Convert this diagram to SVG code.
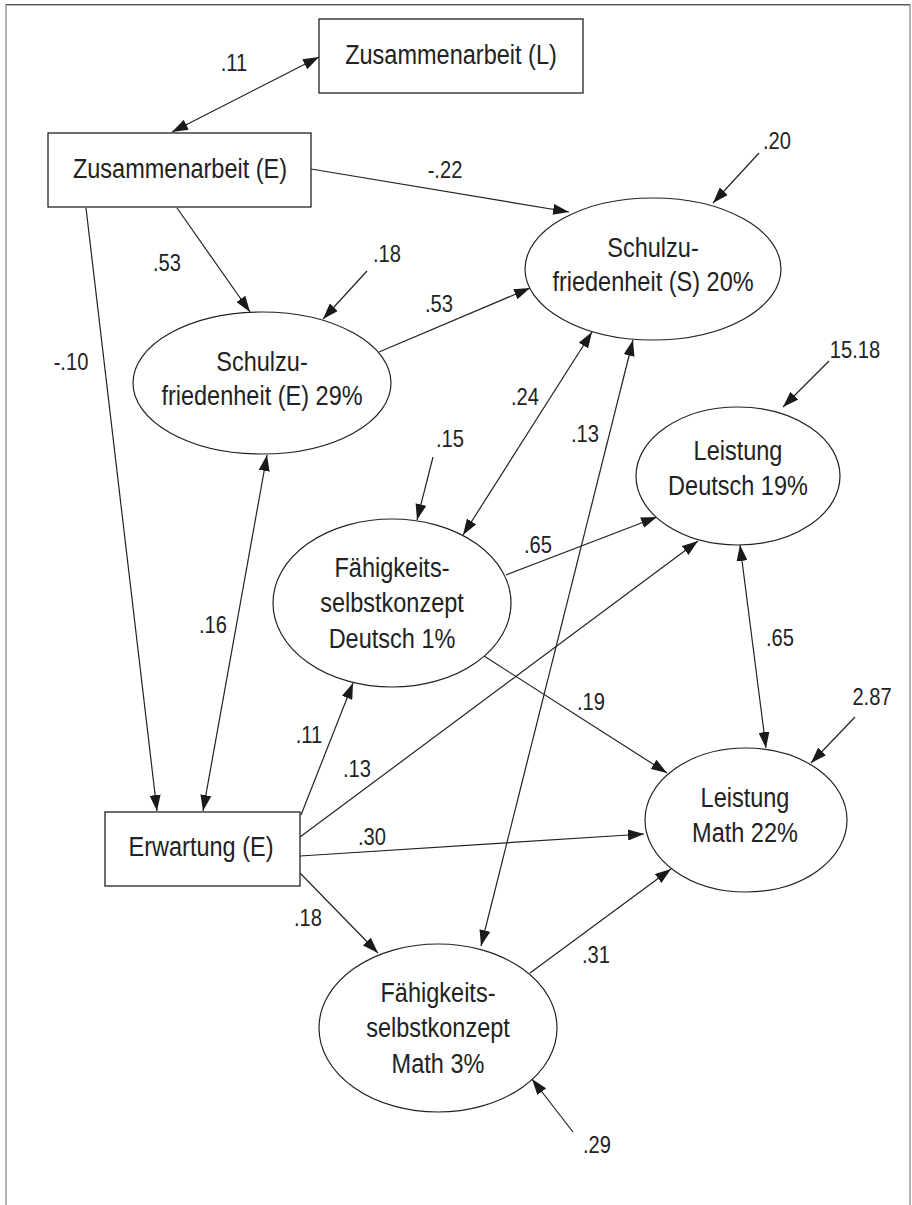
<svg xmlns="http://www.w3.org/2000/svg" width="912" height="1205" viewBox="0 0 912 1205">
<defs>
<marker id="ah" viewBox="0 0 16 11" refX="16" refY="5.5" markerWidth="16" markerHeight="11" markerUnits="userSpaceOnUse" orient="auto-start-reverse">
<path d="M0,0 L16,5.5 L0,11 z" fill="#1a1a1a"/>
</marker>
<style>
.frame{fill:none;stroke:#9a9a9a;stroke-width:1.5}
.box{fill:#fff;stroke:#222;stroke-width:1.3}
.ell{fill:#fff;stroke:#222;stroke-width:1.2}
.t{font-family:"Liberation Sans",Arial,sans-serif;font-size:28px;fill:#222;text-anchor:middle}
.lb{font-family:"Liberation Sans",Arial,sans-serif;font-size:24px;fill:#222;text-anchor:middle}
.c line{stroke:#222;stroke-width:1.2;fill:none}
.one{marker-end:url(#ah)}
.two{marker-start:url(#ah);marker-end:url(#ah)}
</style>
</defs>
<rect width="912" height="1205" fill="#fff"/>
<path class="frame" d="M6,1205 V5 H910 V1205"/>
<line x1="6" y1="4.5" x2="910" y2="4.5" stroke="#555" stroke-width="1"/>

<g id="connectors" class="c">
<line class="two" x1="172" y1="132" x2="319" y2="57"/>
<line class="one" x1="311" y1="169" x2="569" y2="212"/>
<line class="one" x1="177" y1="208" x2="250" y2="312"/>
<line class="one" x1="367" y1="271" x2="323" y2="319"/>
<line class="one" x1="759" y1="153" x2="713" y2="203"/>
<line class="one" x1="379" y1="352" x2="530" y2="288"/>
<line class="one" x1="86" y1="208" x2="157" y2="811"/>
<line class="two" x1="267" y1="455" x2="203" y2="811"/>
<line class="two" x1="592" y1="332" x2="463" y2="535"/>
<line class="two" x1="633" y1="340" x2="481" y2="946"/>
<line class="one" x1="433" y1="457" x2="417" y2="520"/>
<line class="one" x1="829" y1="361" x2="783" y2="407"/>
<line class="one" x1="506" y1="575" x2="657" y2="517"/>
<line class="one" x1="300" y1="837" x2="698" y2="541"/>
<line class="two" x1="740" y1="545" x2="766" y2="748"/>
<line class="one" x1="484" y1="656" x2="667" y2="773"/>
<line class="one" x1="855" y1="717" x2="811" y2="763"/>
<line class="one" x1="301" y1="815" x2="353" y2="683"/>
<line class="one" x1="300" y1="856" x2="644" y2="834"/>
<line class="one" x1="300" y1="873" x2="378" y2="953"/>
<line class="one" x1="530" y1="973" x2="671" y2="869"/>
<line class="one" x1="573" y1="1132" x2="532" y2="1079"/>
</g>

<g id="zusammenarbeit-l">
<rect class="box" x="319" y="19" width="264" height="74"/>
<text class="t" transform="translate(451,64) scale(0.84 1)">Zusammenarbeit (L)</text>
</g>
<g id="zusammenarbeit-e">
<rect class="box" x="48" y="133" width="263" height="74"/>
<text class="t" transform="translate(180,178) scale(0.84 1)">Zusammenarbeit (E)</text>
</g>
<g id="schulzufriedenheit-s">
<ellipse class="ell" cx="653" cy="269" rx="128" ry="71"/>
<text class="t" transform="translate(653,257) scale(0.84 1)">Schulzu-</text>
<text class="t" transform="translate(653,291) scale(0.84 1)">friedenheit (S) 20%</text>
</g>
<g id="schulzufriedenheit-e">
<ellipse class="ell" cx="262" cy="383" rx="129" ry="71"/>
<text class="t" transform="translate(262,371) scale(0.84 1)">Schulzu-</text>
<text class="t" transform="translate(262,405) scale(0.84 1)">friedenheit (E) 29%</text>
</g>
<g id="leistung-deutsch">
<ellipse class="ell" cx="738" cy="476" rx="102" ry="69"/>
<text class="t" transform="translate(738,460) scale(0.84 1)">Leistung</text>
<text class="t" transform="translate(738,495) scale(0.84 1)">Deutsch 19%</text>
</g>
<g id="fsk-deutsch">
<ellipse class="ell" cx="392" cy="603" rx="119" ry="84"/>
<text class="t" transform="translate(392,577) scale(0.84 1)">Fähigkeits-</text>
<text class="t" transform="translate(392,612) scale(0.84 1)">selbstkonzept</text>
<text class="t" transform="translate(392,648) scale(0.84 1)">Deutsch 1%</text>
</g>
<g id="leistung-math">
<ellipse class="ell" cx="746" cy="820" rx="101" ry="72"/>
<text class="t" transform="translate(745,807) scale(0.84 1)">Leistung</text>
<text class="t" transform="translate(745,842) scale(0.84 1)">Math 22%</text>
</g>
<g id="erwartung-e">
<rect class="box" x="105" y="812" width="195" height="74"/>
<text class="t" transform="translate(201,856) scale(0.84 1)">Erwartung (E)</text>
</g>
<g id="fsk-math">
<ellipse class="ell" cx="438" cy="1028" rx="119" ry="84"/>
<text class="t" transform="translate(438,1002) scale(0.84 1)">Fähigkeits-</text>
<text class="t" transform="translate(438,1037) scale(0.84 1)">selbstkonzept</text>
<text class="t" transform="translate(438,1073) scale(0.84 1)">Math 3%</text>
</g>

<g id="labels">
<text class="lb" transform="translate(234,71) scale(0.84 1)">.11</text>
<text class="lb" transform="translate(445,178) scale(0.84 1)">-.22</text>
<text class="lb" transform="translate(777,149) scale(0.84 1)">.20</text>
<text class="lb" transform="translate(167,271) scale(0.84 1)">.53</text>
<text class="lb" transform="translate(387,262) scale(0.84 1)">.18</text>
<text class="lb" transform="translate(439,312) scale(0.84 1)">.53</text>
<text class="lb" transform="translate(71,370) scale(0.84 1)">-.10</text>
<text class="lb" transform="translate(855,358) scale(0.84 1)">15.18</text>
<text class="lb" transform="translate(525,405) scale(0.84 1)">.24</text>
<text class="lb" transform="translate(585,442) scale(0.84 1)">.13</text>
<text class="lb" transform="translate(450,447) scale(0.84 1)">.15</text>
<text class="lb" transform="translate(538,553) scale(0.84 1)">.65</text>
<text class="lb" transform="translate(213,633) scale(0.84 1)">.16</text>
<text class="lb" transform="translate(780,646) scale(0.84 1)">.65</text>
<text class="lb" transform="translate(591,710) scale(0.84 1)">.19</text>
<text class="lb" transform="translate(872,705) scale(0.84 1)">2.87</text>
<text class="lb" transform="translate(309,743) scale(0.84 1)">.11</text>
<text class="lb" transform="translate(357,777) scale(0.84 1)">.13</text>
<text class="lb" transform="translate(372,845) scale(0.84 1)">.30</text>
<text class="lb" transform="translate(308,926) scale(0.84 1)">.18</text>
<text class="lb" transform="translate(596,963) scale(0.84 1)">.31</text>
<text class="lb" transform="translate(597,1153) scale(0.84 1)">.29</text>
</g>
</svg>
